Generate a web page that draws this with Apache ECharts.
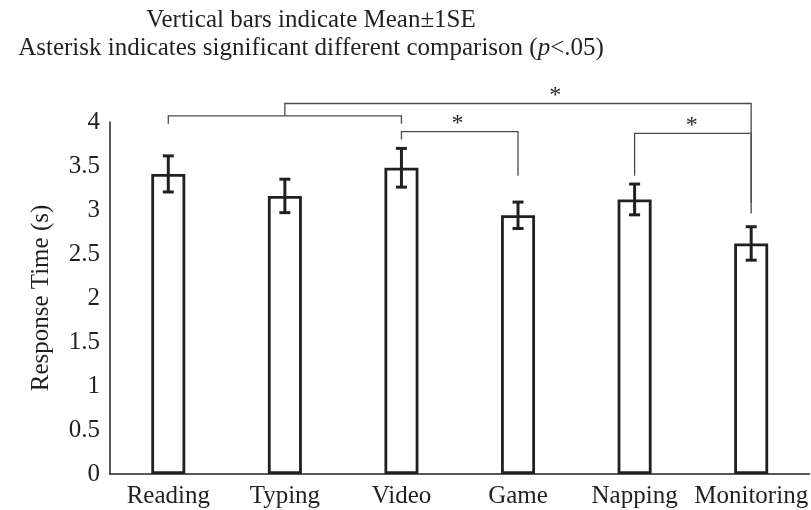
<!DOCTYPE html>
<html>
<head>
<meta charset="utf-8">
<script src="https://cdn.jsdelivr.net/npm/echarts@6/dist/echarts.min.js"></script>
<style>
  html, body { margin: 0; padding: 0; background: #fff; }
  #chart { width: 811px; height: 510px; }
</style>
</head>
<body>
<div id="chart"></div>
<script>
// categories and values
var categories = ['Reading', 'Typing', 'Video', 'Game', 'Napping', 'Monitoring'];
var means = [3.41, 3.16, 3.48, 2.94, 3.12, 2.62];
var stdErr = [0.205, 0.19, 0.22, 0.15, 0.175, 0.19];

// significance brackets: [from index, to index, line y, from-end y, to-end y]
var brackets = [
  [0, 2, 4.07, 3.98, 3.98],
  [1, 5, 4.21, 4.07, 3.08],
  [2, 3, 3.89, 3.80, 3.39],
  [4, 5, 3.87, 3.39, 2.96]
];
// asterisks: [from index, to index, fraction along, y]
var asterisks = [
  [1, 5, 0.58, 4.21],
  [2, 3, 0.48, 3.89],
  [4, 5, 0.49, 3.87]
];

var ink = '#231f20';
var serif = '"Liberation Serif", "DejaVu Serif", serif';
var fs = 25;

var errData = means.map(function (m, i) {
  return [i, m - stdErr[i], m + stdErr[i]];
});

var chart = echarts.init(document.getElementById('chart'));

chart.setOption({
  animation: false,
  backgroundColor: '#fff',
  textStyle: { fontFamily: serif, color: ink },
  graphic: [
    {
      type: 'text', x: 311, y: 8,
      style: {
        text: 'Vertical bars indicate Mean±1SE',
        font: fs + 'px ' + serif, fill: ink, align: 'center', verticalAlign: 'top'
      }
    },
    {
      type: 'text', x: 311, y: 36,
      style: {
        text: 'Asterisk indicates significant different comparison ({i|p}<.05)',
        font: fs + 'px ' + serif, fill: ink, align: 'center', verticalAlign: 'top',
        rich: { i: { fontStyle: 'italic', fontFamily: serif, fontSize: fs, fill: ink } }
      }
    }
  ],
  grid: { left: 110, right: 0, top: 122, bottom: 36 },
  xAxis: {
    type: 'category',
    data: categories,
    axisTick: { show: false },
    axisLine: { lineStyle: { color: ink, width: 1.5 } },
    axisLabel: { color: ink, fontSize: fs, fontFamily: serif, margin: 10, interval: 0 }
  },
  yAxis: {
    type: 'value',
    min: 0,
    max: 4,
    interval: 0.5,
    name: 'Response Time (s)',
    nameLocation: 'middle',
    nameGap: 56,
    nameTextStyle: { color: ink, fontSize: fs, fontFamily: serif },
    axisLine: { show: true, lineStyle: { color: ink, width: 1.5 } },
    axisTick: { show: false },
    splitLine: { show: false },
    axisLabel: { color: ink, fontSize: fs, fontFamily: serif, margin: 10 }
  },
  series: [
    {
      type: 'bar',
      data: means,
      barWidth: 34,
      itemStyle: { color: '#fff', borderColor: ink, borderWidth: 2.8 }
    },
    {
      type: 'custom',
      data: errData,
      encode: { x: 0, y: [1, 2] },
      z: 5,
      renderItem: function (params, api) {
        var lo = api.coord([api.value(0), api.value(1)]);
        var hi = api.coord([api.value(0), api.value(2)]);
        var w = 5.5;
        var st = { stroke: ink, lineWidth: 3 };
        return {
          type: 'group',
          children: [
            { type: 'line', shape: { x1: lo[0], y1: lo[1], x2: hi[0], y2: hi[1] }, style: st },
            { type: 'line', shape: { x1: lo[0] - w, y1: lo[1], x2: lo[0] + w, y2: lo[1] }, style: st },
            { type: 'line', shape: { x1: hi[0] - w, y1: hi[1], x2: hi[0] + w, y2: hi[1] }, style: st }
          ]
        };
      }
    },
    {
      type: 'custom',
      data: brackets,
      encode: { x: 0, y: 2 },
      z: 6,
      renderItem: function (params, api) {
        var a = api.coord([api.value(0), api.value(3)]);
        var top = api.coord([api.value(0), api.value(2)]);
        var b = api.coord([api.value(1), api.value(4)]);
        return {
          type: 'polyline',
          shape: { points: [[a[0], a[1]], [a[0], top[1]], [b[0], top[1]], [b[0], b[1]]] },
          style: { stroke: '#4a4a4a', lineWidth: 1.3, fill: null }
        };
      }
    },
    {
      type: 'custom',
      data: asterisks,
      encode: { x: 0, y: 3 },
      z: 6,
      renderItem: function (params, api) {
        var a = api.coord([api.value(0), api.value(3)]);
        var b = api.coord([api.value(1), api.value(3)]);
        var t = api.value(2);
        return {
          type: 'text',
          style: {
            x: a[0] + (b[0] - a[0]) * t,
            y: a[1] + 4,
            text: '*',
            font: '24px ' + serif,
            fill: ink,
            align: 'center',
            verticalAlign: 'bottom'
          }
        };
      }
    }
  ]
});
</script>
</body>
</html>
